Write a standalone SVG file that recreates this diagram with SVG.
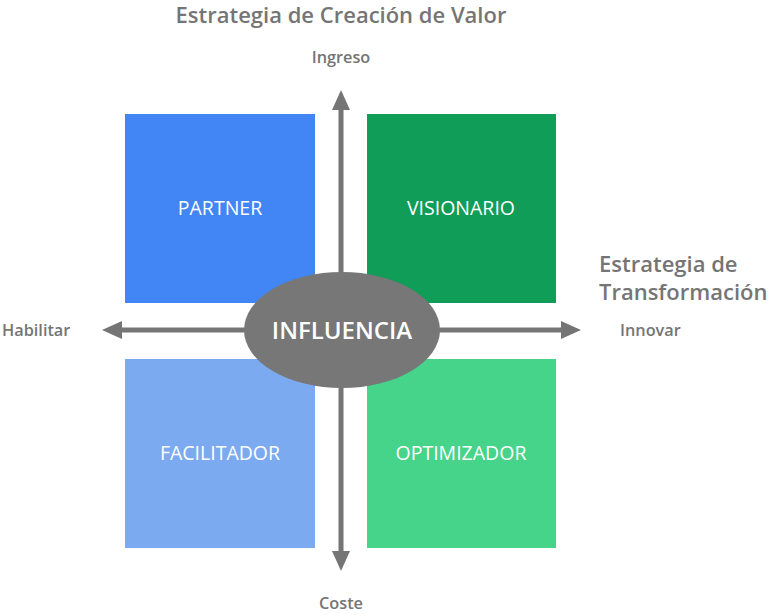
<svg xmlns="http://www.w3.org/2000/svg" width="768" height="615" viewBox="0 0 768 615">
<defs>
<style>
.t{font-family:"Open Sans","Liberation Sans",sans-serif;fill:#757575;font-weight:600}
.h{font-size:22px}
.s{font-size:16.3px}
.n{font-family:"Open Sans","Liberation Sans",sans-serif;fill:#ffffff;font-size:19.5px;text-anchor:middle}
.ax{stroke:#757575;stroke-width:5;fill:none}
</style>
<marker id="ah" viewBox="0 0 20 18" refX="2" refY="9" markerUnits="userSpaceOnUse" markerWidth="20" markerHeight="18" orient="auto">
<path d="M0,0 L20,9 L0,18 Z" fill="#757575"/>
</marker>
</defs>
<rect width="768" height="615" fill="#ffffff"/>
<text class="t h" x="341" y="23" text-anchor="middle">Estrategia de Creación de Valor</text>
<text class="t s" x="341" y="63" text-anchor="middle">Ingreso</text>
<text class="t s" x="341" y="609" text-anchor="middle">Coste</text>
<text class="t s" x="2" y="336">Habilitar</text>
<text class="t s" x="620" y="336">Innovar</text>
<text class="t h" x="599" y="272">Estrategia de</text>
<text class="t h" x="599" y="300">Transformación</text>
<g id="partner"><rect x="125" y="114" width="190" height="189" fill="#4285f4"/><text class="n" x="220" y="215">PARTNER</text></g>
<g id="visionario"><rect x="367" y="114" width="189" height="189" fill="#0f9d58"/><text class="n" x="461" y="215">VISIONARIO</text></g>
<g id="facilitador"><rect x="125" y="359" width="190" height="189" fill="#7baaf0"/><text class="n" x="220" y="460">FACILITADOR</text></g>
<g id="optimizador"><rect x="367" y="359" width="189" height="189" fill="#46d38a"/><text class="n" x="461" y="460">OPTIMIZADOR</text></g>
<g id="connectors">
<line class="ax" x1="341" y1="330" x2="341" y2="108" marker-end="url(#ah)"/>
<line class="ax" x1="341" y1="330" x2="341" y2="553" marker-end="url(#ah)"/>
<line class="ax" x1="341" y1="330" x2="120" y2="330" marker-end="url(#ah)"/>
<line class="ax" x1="341" y1="330" x2="563" y2="330" marker-end="url(#ah)"/>
</g>
<g id="influencia"><ellipse cx="342" cy="330" rx="98" ry="58" fill="#777777"/><text x="342" y="339" text-anchor="middle" font-family="Open Sans, Liberation Sans, sans-serif" font-weight="600" font-size="24" fill="#ffffff">INFLUENCIA</text></g>
</svg>
